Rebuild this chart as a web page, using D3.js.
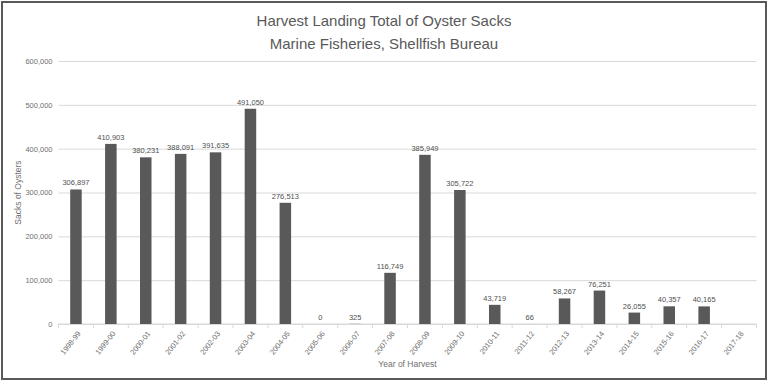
<!DOCTYPE html>
<html>
<head>
<meta charset="utf-8">
<script src="https://cdn.jsdelivr.net/npm/d3@7"></script>
<style>
  body { margin: 0; background: #fff; }
  text { font-family: "Liberation Sans", sans-serif; }
</style>
</head>
<body>
<svg id="chart"></svg>
<script>
        // Harvest seasons and sacks landed
        const seasons = ['1998-99', '1999-00', '2000-01', '2001-02', '2002-03', '2003-04', '2004-05',
            '2005-06', '2006-07', '2007-08', '2008-09', '2009-10', '2010-11', '2011-12', '2012-13',
            '2013-14', '2014-15', '2015-16', '2016-17', '2017-18'];
        const sacks = [306897, 410903, 380231, 388091, 391635, 491050, 276513,
            0, 325, 116749, 385949, 305722, 43719, 66, 58267,
            76251, 26055, 40357, 40165, null];
        const yTicks = [0, 100000, 200000, 300000, 400000, 500000, 600000];
        const titleLines = ['Harvest Landing Total of Oyster Sacks', 'Marine Fisheries, Shellfish Bureau'];

        const W = 768, H = 382;
        const margin = { top: 61, right: 11.5, bottom: 58, left: 58.5 };
        const width = W - margin.left - margin.right;
        const height = H - margin.top - margin.bottom;
        const fmt = d3.format(',');

        const root = d3.select('#chart')
            .attr('width', W)
            .attr('height', H);

        // outer frame
        root.append('rect')
            .attr('x', 2).attr('y', 2)
            .attr('width', 764).attr('height', 377)
            .attr('fill', 'none')
            .attr('stroke', '#595959')
            .attr('stroke-width', 2);

        // title
        root.append('g')
            .selectAll('text')
            .data(titleLines)
            .enter()
            .append('text')
            .attr('x', W / 2)
            .attr('y', (d, i) => 26 + i * 23)
            .attr('text-anchor', 'middle')
            .attr('fill', '#595959')
            .style('font-size', '15px')
            .text(d => d);

        const svg = root.append('g')
            .attr('transform', `translate(${margin.left},${margin.top})`);

        const xScale = d3.scaleBand()
            .domain(seasons)
            .range([0, width])
            .paddingInner(0.67)
            .paddingOuter(0.335);

        const yScale = d3.scaleLinear()
            .domain([0, 600000])
            .range([height, 0]);

        // gridlines + y labels
        const yAxis = svg.append('g')
            .attr('class', 'axis-y')
            .call(d3.axisLeft(yScale).tickValues(yTicks).tickFormat(fmt).tickSize(-width).tickPadding(6));
        yAxis.select('.domain').remove();
        yAxis.selectAll('.tick line').attr('stroke', '#d9d9d9');
        yAxis.selectAll('.tick text')
            .attr('fill', '#6f6f6f')
            .style('font-size', '7.5px')
            .style('font-family', '"Liberation Sans", sans-serif');

        // x axis with ticks between categories
        const step = xScale.step();
        const xAxis = svg.append('g')
            .attr('class', 'axis-x')
            .attr('transform', `translate(0, ${height})`);
        xAxis.append('line')
            .attr('x1', 0).attr('x2', width)
            .attr('stroke', '#d9d9d9');
        xAxis.selectAll('.sep')
            .data(d3.range(seasons.length + 1))
            .enter()
            .append('line')
            .attr('x1', i => i * step).attr('x2', i => i * step)
            .attr('y1', 0).attr('y2', 4)
            .attr('stroke', '#d9d9d9');
        xAxis.selectAll('.lbl')
            .data(seasons)
            .enter()
            .append('text')
            .attr('transform', d => `translate(${xScale(d) + xScale.bandwidth() / 2 + 3},${8}) rotate(-52)`)
            .attr('text-anchor', 'end')
            .attr('dy', '0.35em')
            .attr('fill', '#6f6f6f')
            .style('font-size', '7.5px')
            .text(d => d);

        // bars
        const shown = seasons.map((s, i) => ({ s, v: sacks[i] })).filter(d => d.v !== null);
        svg.selectAll('.bar')
            .data(shown)
            .enter()
            .append('rect')
            .attr('class', 'bar')
            .attr('x', d => xScale(d.s))
            .attr('y', d => yScale(d.v))
            .attr('width', xScale.bandwidth())
            .attr('height', d => height - yScale(d.v))
            .attr('fill', '#595959');

        // value labels
        svg.selectAll('.val')
            .data(shown)
            .enter()
            .append('text')
            .attr('x', d => xScale(d.s) + xScale.bandwidth() / 2)
            .attr('y', d => yScale(d.v) - 4)
            .attr('text-anchor', 'middle')
            .attr('fill', '#505050')
            .style('font-size', '7.5px')
            .text(d => fmt(d.v));

        // axis titles
        root.append('text')
            .attr('transform', `translate(21,${margin.top + height / 2}) rotate(-90)`)
            .attr('text-anchor', 'middle')
            .attr('fill', '#6f6f6f')
            .style('font-size', '8.5px')
            .text('Sacks of Oysters');

        root.append('text')
            .attr('x', margin.left + width / 2)
            .attr('y', 367)
            .attr('text-anchor', 'middle')
            .attr('fill', '#6f6f6f')
            .style('font-size', '8.5px')
            .text('Year of Harvest');
</script>
</body>
</html>
